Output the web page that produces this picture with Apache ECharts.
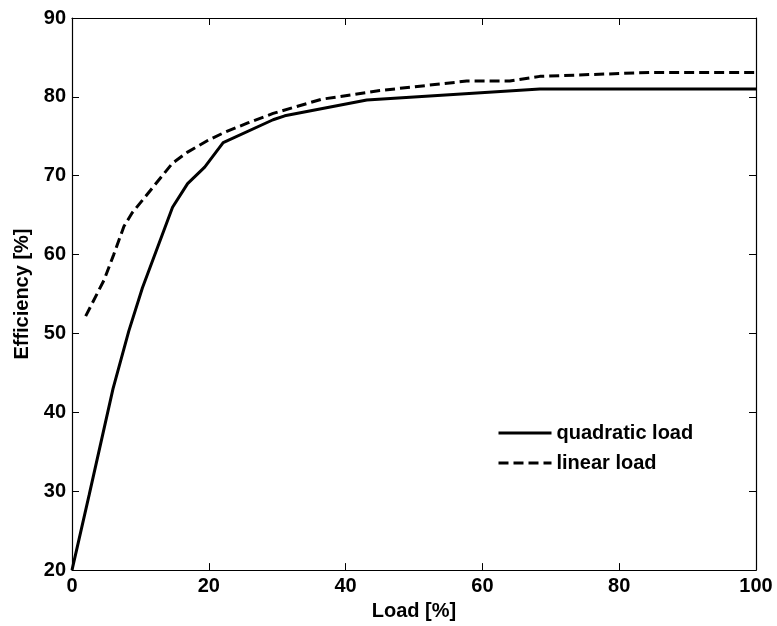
<!DOCTYPE html>
<html><head><meta charset="utf-8">
<script src="https://cdn.jsdelivr.net/npm/echarts@6/dist/echarts.min.js"></script>
<style>html,body{margin:0;padding:0;background:#fff}#c{width:777px;height:626px}</style>
</head><body><div id="c"></div>
<script>
var xTicks = [0, 20, 40, 60, 80, 100];
var yTicks = [20, 30, 40, 50, 60, 70, 80, 90];
var quadLoad = [0, 2.5, 6, 8.3, 10.3, 14.7, 16.9, 19.4, 22.1, 29.4, 31.1, 43.1, 68.4, 100];
var quadEff  = [20, 29.5, 43, 50.3, 55.8, 66, 69, 71.1, 74.2, 77.1, 77.6, 79.6, 81, 81];
var linLoad = [2, 4.7, 6.1, 7.6, 8.8, 14.7, 16.9, 19.9, 22.3, 25.7, 29.4, 36.5, 45, 57.7, 64, 68.4, 84.5, 100];
var linEff  = [52.2, 56.8, 60, 63.6, 65.3, 71.6, 73, 74.5, 75.5, 76.7, 77.9, 79.7, 80.8, 82, 82, 82.6, 83.1, 83.1];

function pairs(xs, ys){ return xs.map(function(x,i){ return [x, ys[i]]; }); }
var font = 'Liberation Sans, Arial, sans-serif';
var fs = 20;
var chart = echarts.init(document.getElementById('c'));
var axisLineStyle = {color:'#000', width:1.2};
chart.setOption({
  animation:false,
  grid:{left:72, right:21, top:18, bottom:52, show:false},
  legend:{
    orient:'vertical', left:492, top:418, itemWidth:53, itemHeight:14, itemGap:10,
    textStyle:{fontFamily:font, fontWeight:'bold', fontSize:20, color:'#000'},
    itemStyle:{opacity:0},
    lineStyle:{width:3},
    data:['quadratic load','linear load']
  },
  xAxis:[{
    type:'value', min:xTicks[0], max:xTicks[xTicks.length-1], interval:20,
    name:'Load [%]', nameLocation:'middle', nameGap:27,
    nameTextStyle:{fontFamily:font, fontWeight:'bold', fontSize:fs, color:'#000'},
    axisLine:{show:true, onZero:false, lineStyle:axisLineStyle},
    axisTick:{show:true, inside:true, length:7, lineStyle:{color:'#000'}},
    axisLabel:{fontFamily:font, fontWeight:'bold', fontSize:fs, color:'#000', margin:6},
    splitLine:{show:false}
  },{
    type:'value', position:'top', min:0, max:100, interval:20,
    axisLine:{show:true, onZero:false, lineStyle:axisLineStyle},
    axisTick:{show:true, inside:true, length:7, lineStyle:{color:'#000'}},
    axisLabel:{show:false}, splitLine:{show:false}
  }],
  yAxis:[{
    type:'value', min:yTicks[0], max:yTicks[yTicks.length-1], interval:10,
    name:'Efficiency [%]', nameLocation:'middle', nameGap:40, nameRotate:90,
    nameTextStyle:{fontFamily:font, fontWeight:'bold', fontSize:fs, color:'#000'},
    axisLine:{show:true, onZero:false, lineStyle:axisLineStyle},
    axisTick:{show:true, inside:true, length:7, lineStyle:{color:'#000'}},
    axisLabel:{fontFamily:font, fontWeight:'bold', fontSize:fs, color:'#000', margin:6},
    splitLine:{show:false}
  },{
    type:'value', position:'right', min:20, max:90, interval:10,
    axisLine:{show:true, onZero:false, lineStyle:axisLineStyle},
    axisTick:{show:true, inside:true, length:7, lineStyle:{color:'#000'}},
    axisLabel:{show:false}, splitLine:{show:false}
  }],
  series:[{
    name:'quadratic load', type:'line', data:pairs(quadLoad, quadEff),
    symbol:'none', lineStyle:{color:'#000', width:3, type:'solid'}, itemStyle:{color:'#000'}
  },{
    name:'linear load', type:'line', data:pairs(linLoad, linEff),
    symbol:'none', lineStyle:{color:'#000', width:3, type:[10,5]}, itemStyle:{color:'#000'}
  }]
});
</script></body></html>
